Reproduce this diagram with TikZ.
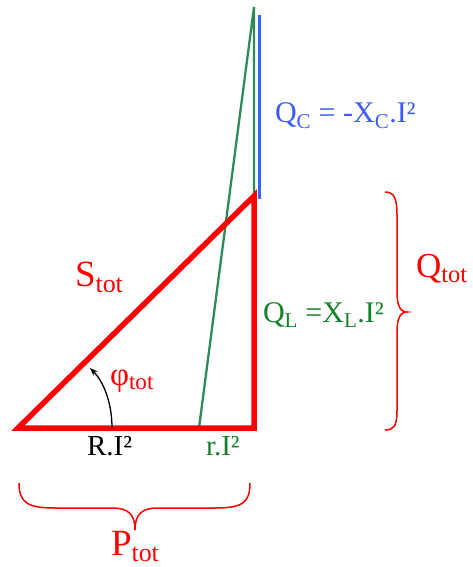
\documentclass[tikz,border=0pt]{standalone}
\usepackage{fontspec}
\setmainfont{Liberation Serif}
\usetikzlibrary{arrows.meta}
\definecolor{tred}{RGB}{255,0,0}
\definecolor{tblue}{RGB}{60,90,255}
\definecolor{lblue}{RGB}{51,102,255}
\definecolor{tgreen}{RGB}{20,130,40}
\definecolor{lgreen}{RGB}{46,139,87}
\newcommand\fs[1]{\fontsize{#1}{#1}\selectfont}
\newcommand\sbx[1]{\textsubscript{#1}}
\tikzset{
  lbl/.style={anchor=base west, inner sep=0pt, outer sep=0pt},
  redtri/.style={draw=tred, line width=5.5pt, line join=miter},
  greenln/.style={draw=lgreen, line width=2.3pt},
  blueln/.style={draw=lblue, line width=2.3pt},
  bracestyle/.style={draw=tred, line width=1.5pt},
}
\begin{document}
\begin{tikzpicture}[x=1pt,y=-1pt]
\useasboundingbox (0,0) rectangle (473,567);
% vertices
\coordinate (A) at (18,428);
\coordinate (B) at (254,428);
\coordinate (C) at (254,196);
\coordinate (G) at (199,428);
\coordinate (T) at (254,7);
\coordinate (BT) at (259.5,15);
\coordinate (BB) at (259.5,199);
% green triangle
\draw[greenln] (G) -- (B) -- (T) -- cycle;
% blue line
\draw[blueln] (BT) -- (BB);
% red triangle
\draw[redtri] (A) -- (B) -- (C) -- cycle;
% angle arrow
\coordinate (a1) at (112,428);
\coordinate (a2) at (90,368);
\draw[line width=1.3pt, -{Stealth[length=8pt,width=6pt]}] (a1) .. controls (112,400) and (102,380) .. (a2);
% bottom brace
\draw[bracestyle] (19,483) .. controls (19,503) and (28,508) .. (55,508)
  -- (112,508) .. controls (128,508) and (135,514) .. (135,530)
  .. controls (135,514) and (142,508) .. (158,508)
  -- (215,508) .. controls (242,508) and (250,503) .. (250,483);
% right brace
\draw[bracestyle] (385,192) .. controls (394,192) and (397,198) .. (397,215)
  -- (397,292) .. controls (397,305) and (400,312) .. (407,312)
  .. controls (400,312) and (397,319) .. (397,332)
  -- (397,410) .. controls (397,426) and (394,430) .. (385,430);
% labels
\node[lbl, text=tblue] (qc) at (275,123) {\fs{30}Q\sbx{C} = -X\sbx{C}.I²};
\node[lbl, text=tred] (qtot) at (416,277) {\fs{35}Q\sbx{tot}};
\node[lbl, text=tgreen] (ql) at (263,322) {\fs{30}Q\sbx{L} =X\sbx{L}.I²};
\node[lbl, text=tred] (stot) at (75,286) {\fs{37}S\sbx{tot}};
\node[lbl, text=tred] (phi) at (110,385) {\fs{33}φ\sbx{tot}};
\node[lbl, text=black] (ri) at (87,455) {\fs{29}R.I²};
\node[lbl, text=tgreen] (rri) at (206,455) {\fs{29}r.I²};
\node[lbl, text=tred] (ptot) at (111,555) {\fs{37}P\sbx{tot}};
\end{tikzpicture}
\end{document}
